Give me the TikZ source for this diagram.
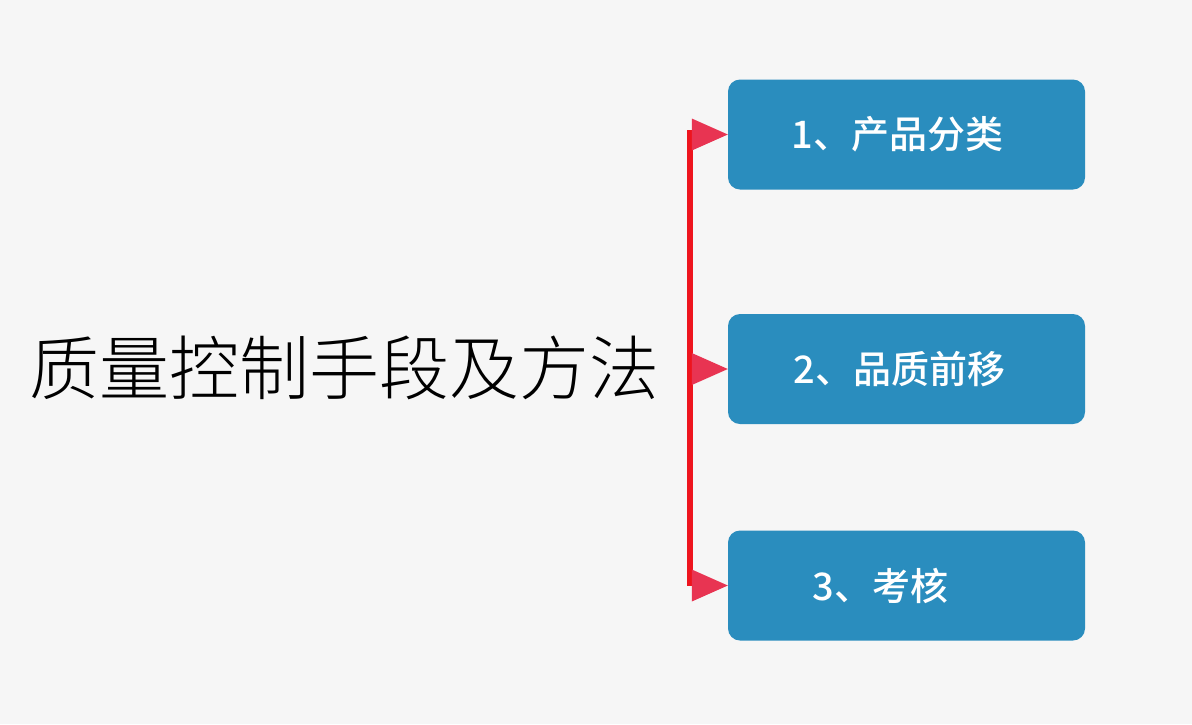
\documentclass[tikz,border=0pt]{standalone}
\usepackage{fontspec}
\newfontfamily\cjk{Noto Sans CJK SC Medium}
\newfontfamily\cjklight{Noto Sans CJK SC Light}
\usetikzlibrary{positioning}

\definecolor{bgColor}{RGB}{246,246,246}
\definecolor{boxColor}{RGB}{42,141,190}
\definecolor{lineColor}{RGB}{238,20,30}
\definecolor{tipColor}{RGB}{232,52,82}

\tikzset{
    item/.style = {fill = boxColor, rounded corners = 12pt, minimum width = 357pt,
                   minimum height = 110pt, text = white, font = \cjk\fontsize{38}{42}\selectfont},
    tip/.style  = {fill = tipColor}
}

\begin{document}
\begin{tikzpicture}[x = 1pt, y = -1pt]
            % background and bounds
            \path [fill = bgColor] (0,0) rectangle (1192,724);
            \useasboundingbox (0,0) rectangle (1192,724);

            \node [font = \cjklight\fontsize{70}{76}\selectfont, anchor = west] (title) at (26,368) {质量控制手段及方法};

            \node [item] (kind) at (906.5,134.5) {\hspace*{-18pt}1、产品分类};
            \node [item] (move) at (906.5,369) {\hspace*{-14pt}2、品质前移};
            \node [item] (check) at (906.5,585.5) {\hspace*{-52pt}3、考核};

            \coordinate (top) at (690,130);
            \coordinate (bottom) at (690,586);
            \draw [lineColor, line width = 6pt] (top) -- (bottom);

            \foreach \n in {kind, move, check}
                \path [tip] (\n.west) -- ++(-36,-16) -- ++(0,32) -- cycle;
\end{tikzpicture}
\end{document}
